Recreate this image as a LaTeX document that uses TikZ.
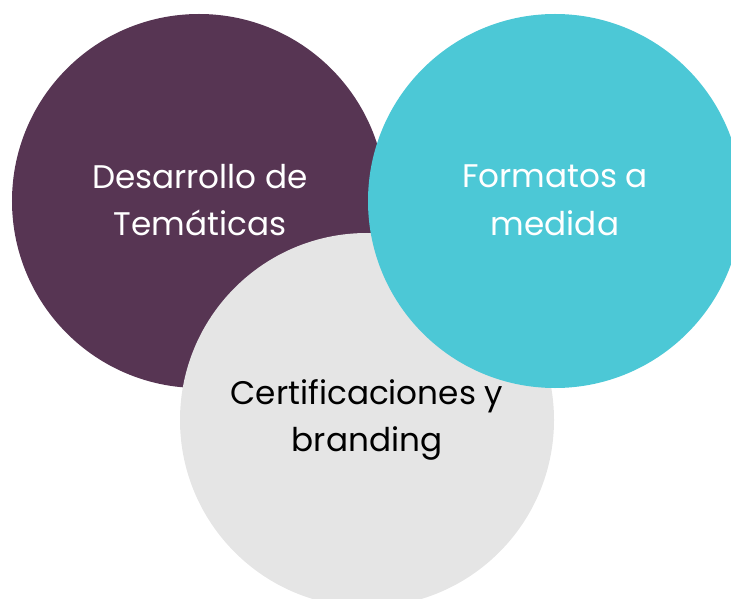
\documentclass[tikz,border=0pt]{standalone}
\usepackage{fontspec}
\setmainfont{Poppins}
\usetikzlibrary{positioning}
\definecolor{plum}{HTML}{573553}
\definecolor{aqua}{HTML}{4CC8D6}
\definecolor{mist}{HTML}{E5E5E5}
\tikzset{
  disc/.style={circle,minimum size=374bp,inner sep=0pt},
  lbl/.style={align=center,font=\fontsize{32.8}{48}\selectfont},
}
\begin{document}
\begin{tikzpicture}[x=1bp,y=-1bp]
  \useasboundingbox (0,0) rectangle (731,599);
  \clip (0,0) rectangle (731,599);
  % three overlapping discs, back to front
  \node[disc,fill=plum] (tem) at (199,201) {};
  \node[disc,fill=mist] (cert) at (367,420) {};
  \node[disc,fill=aqua] (form) at (555,201) {};
  % labels
  \node[lbl,text=white] at (200,200) {Desarrollo de\\Temáticas};
  \node[lbl,text=white] at (555,200) {Formatos a\\medida};
  \node[lbl,text=black] at (367,420) {Certificaciones y\\branding};
\end{tikzpicture}
\end{document}
